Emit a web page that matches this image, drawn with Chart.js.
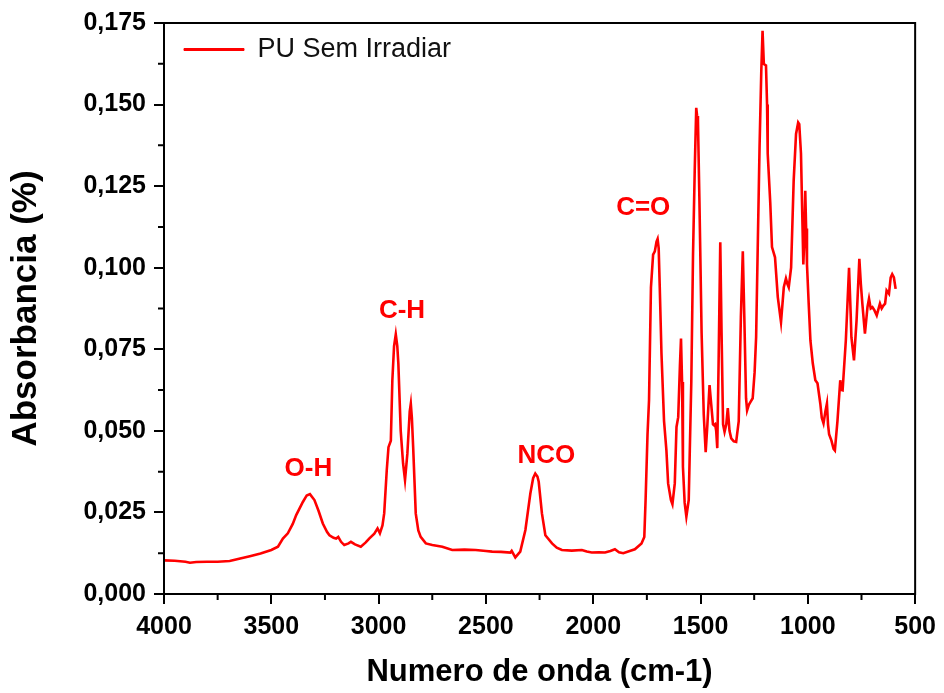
<!DOCTYPE html>
<html>
<head>
<meta charset="utf-8">
<script src="https://cdn.jsdelivr.net/npm/chart.js@4.4.0/dist/chart.umd.min.js"></script>
<style>
  body { margin: 0; background: #fff; }
</style>
</head>
<body>
<canvas id="espectro" width="944" height="693"></canvas>
<script>
// espectro FTIR - PU sem irradiar
var numeroOnda = [4000, 3950, 3900, 3879, 3850, 3800, 3750, 3694, 3650, 3600, 3550, 3500, 3469, 3446, 3423, 3400, 3384, 3353, 3335, 3320,
  3299, 3280, 3260, 3240, 3229, 3210, 3198, 3188, 3175, 3160, 3140, 3129, 3110, 3083, 3060, 3044, 3020, 3005, 2994, 2982,
  2974, 2962, 2954, 2943, 2936, 2928, 2920, 2913, 2908, 2897, 2886, 2877, 2866, 2855, 2850, 2845, 2839, 2827, 2815, 2804,
  2780, 2750, 2703, 2657, 2600, 2548, 2500, 2471, 2430, 2386, 2380, 2363, 2340, 2316, 2293, 2280, 2270, 2260, 2254, 2239,
  2223, 2192, 2170, 2146, 2100, 2053, 2030, 2007, 1975, 1945, 1920, 1899, 1880, 1860, 1830, 1806, 1775, 1762, 1756, 1747,
  1740, 1731, 1721, 1713, 1705, 1700, 1695, 1690, 1682, 1670, 1659, 1651, 1638, 1631, 1620, 1612, 1604, 1596, 1591, 1586,
  1582, 1574, 1566, 1555, 1550, 1543, 1535, 1527, 1520, 1516, 1512, 1505, 1495, 1485, 1476, 1468, 1458, 1450, 1442, 1437,
  1432, 1427, 1422, 1416, 1408, 1402, 1395, 1388, 1380, 1373, 1365, 1357, 1345, 1334, 1322, 1312, 1303, 1296, 1288, 1283,
  1275, 1267, 1257, 1248, 1241, 1233, 1225, 1217, 1211, 1205, 1195, 1190, 1187, 1175, 1167, 1153, 1140, 1125, 1112, 1102,
  1095, 1089, 1078, 1066, 1055, 1045, 1040, 1032, 1021, 1016, 1012, 1008, 1004, 996, 988, 977, 965, 955, 942, 935,
  927, 918, 911, 906, 901, 890, 880, 874, 862, 849, 843, 838, 823, 808, 800, 797, 785, 773, 760, 753,
  746, 734, 722, 715, 707, 699, 690, 679, 664, 656, 648, 640, 633, 622, 614, 607, 599, 591];
var absorbancia = [0.0103, 0.0102, 0.0099, 0.0096, 0.0098, 0.0099, 0.0099, 0.0101, 0.0108, 0.0116, 0.0124, 0.0135, 0.0145, 0.0170, 0.0186, 0.0215, 0.0242, 0.0282, 0.0302, 0.0306,
  0.0288, 0.0255, 0.0216, 0.0190, 0.0180, 0.0172, 0.0170, 0.0175, 0.0160, 0.0150, 0.0155, 0.0160, 0.0152, 0.0145, 0.0158, 0.0170, 0.0185, 0.0201, 0.0186, 0.0210,
  0.0247, 0.0380, 0.0450, 0.0470, 0.0655, 0.0760, 0.0796, 0.0760, 0.0706, 0.0500, 0.0400, 0.0349, 0.0430, 0.0560, 0.0583, 0.0540, 0.0450, 0.0247, 0.0195, 0.0175,
  0.0155, 0.0150, 0.0145, 0.0135, 0.0136, 0.0135, 0.0132, 0.0130, 0.0129, 0.0127, 0.0132, 0.0112, 0.0130, 0.0196, 0.0308, 0.0355, 0.0369, 0.0360, 0.0344, 0.0247,
  0.0180, 0.0155, 0.0142, 0.0135, 0.0133, 0.0135, 0.0130, 0.0127, 0.0128, 0.0127, 0.0132, 0.0137, 0.0128, 0.0125, 0.0132, 0.0137, 0.0155, 0.0175, 0.0288, 0.0490,
  0.0594, 0.0940, 0.1040, 0.1050, 0.1080, 0.1088, 0.1060, 0.0940, 0.0737, 0.0530, 0.0440, 0.0339, 0.0288, 0.0275, 0.0339, 0.0512, 0.0542, 0.0700, 0.0783, 0.0650,
  0.0390, 0.0280, 0.0237, 0.0288, 0.0440, 0.0650, 0.1040, 0.1300, 0.1490, 0.1465, 0.1450, 0.1200, 0.0800, 0.0550, 0.0435, 0.0520, 0.0640, 0.0580, 0.0520, 0.0517,
  0.0520, 0.0500, 0.0447, 0.0700, 0.1078, 0.0800, 0.0520, 0.0497, 0.0520, 0.0570, 0.0500, 0.0477, 0.0468, 0.0466, 0.0530, 0.0850, 0.1050, 0.0850, 0.0600, 0.0563,
  0.0580, 0.0589, 0.0600, 0.0680, 0.0787, 0.1080, 0.1370, 0.1600, 0.1726, 0.1624, 0.1620, 0.1500, 0.1350, 0.1197, 0.1063, 0.1032, 0.0910, 0.0833, 0.0940, 0.0967,
  0.0950, 0.0940, 0.1000, 0.1267, 0.1410, 0.1445, 0.1440, 0.1350, 0.1010, 0.1100, 0.1236, 0.1120, 0.1010, 0.0890, 0.0777, 0.0707, 0.0655, 0.0646, 0.0584, 0.0540,
  0.0523, 0.0560, 0.0584, 0.0520, 0.0490, 0.0470, 0.0445, 0.0440, 0.0530, 0.0655, 0.0625, 0.0624, 0.0777, 0.1000, 0.0850, 0.0787, 0.0716, 0.0838, 0.1027, 0.0950,
  0.0890, 0.0798, 0.0880, 0.0905, 0.0875, 0.0879, 0.0870, 0.0854, 0.0890, 0.0875, 0.0884, 0.0890, 0.0930, 0.0920, 0.0970, 0.0980, 0.0970, 0.0935];

var xTicks = [4000, 3500, 3000, 2500, 2000, 1500, 1000, 500];
var yTicks = [0, 0.025, 0.05, 0.075, 0.1, 0.125, 0.15, 0.175];

// rotulos das bandas
var bandas = ['O-H', 'C-H', 'NCO', 'C=O'];
var bandaX = [3327, 2891, 2218, 1767];
var bandaY = [0.0385, 0.0869, 0.0422, 0.1184];

var fonte = '"Liberation Sans", Arial, sans-serif';

var pontos = [];
for (var i = 0; i < numeroOnda.length; i++) {
  pontos.push({ x: numeroOnda[i], y: absorbancia[i] });
}

var moldura = {
  id: 'moldura',
  afterDatasetsDraw: function(chart) {
    var ctx = chart.ctx;
    var a = chart.chartArea;
    var sx = chart.scales.x;
    var sy = chart.scales.y;
    ctx.save();
    ctx.strokeStyle = '#000';
    ctx.lineWidth = 2;
    ctx.strokeRect(a.left, a.top, a.right - a.left, a.bottom - a.top);
    // ticks menores
    ctx.beginPath();
    for (var i = 0; i < xTicks.length - 1; i++) {
      var px = sx.getPixelForValue((xTicks[i] + xTicks[i + 1]) / 2);
      ctx.moveTo(px, a.bottom);
      ctx.lineTo(px, a.bottom + 6);
    }
    for (var j = 0; j < yTicks.length - 1; j++) {
      var py = sy.getPixelForValue((yTicks[j] + yTicks[j + 1]) / 2);
      ctx.moveTo(a.left, py);
      ctx.lineTo(a.left - 6, py);
    }
    ctx.stroke();
    // bandas
    ctx.fillStyle = '#ff0000';
    ctx.font = 'bold 26px ' + fonte;
    ctx.textAlign = 'center';
    ctx.textBaseline = 'middle';
    for (var k = 0; k < bandas.length; k++) {
      ctx.fillText(bandas[k], sx.getPixelForValue(bandaX[k]), sy.getPixelForValue(bandaY[k]));
    }
    ctx.restore();
  }
};

var ctx = document.getElementById('espectro');
var grafico = new Chart(ctx, {
  type: 'line',
  data: {
    datasets: [{
      label: 'PU Sem Irradiar',
      data: pontos,
      borderColor: '#ff0000',
      backgroundColor: '#ff0000',
      borderWidth: 2.6,
      pointRadius: 0,
      tension: 0,
      fill: false
    }]
  },
  options: {
    responsive: false,
    animation: false,
    layout: { padding: { top: 22, right: 26, left: 0, bottom: 0 } },
    plugins: {
      tooltip: { enabled: false },
      legend: {
        position: 'chartArea',
        align: 'start',
        title: { display: true, text: ' ', padding: { top: 4, bottom: 0 }, font: { size: 10 } },
        labels: {
          boxWidth: 60,
          boxHeight: 2,
          padding: 20,
          color: '#111',
          font: { family: fonte, size: 27 },
          generateLabels: function(chart) {
            var itens = Chart.defaults.plugins.legend.labels.generateLabels(chart);
            itens.forEach(function(it) { it.lineWidth = 1; it.strokeStyle = '#ff0000'; it.fillStyle = '#ff0000'; });
            return itens;
          }
        }
      }
    },
    scales: {
      x: {
        type: 'linear',
        reverse: true,
        min: 500,
        max: 4000,
        afterBuildTicks: function(scale) { scale.ticks = xTicks.map(function(v) { return { value: v }; }); },
        afterFit: function(scale) { scale.height = 99; },
        grid: { display: true, drawOnChartArea: false, drawTicks: true, tickLength: 10, color: '#000', lineWidth: 2 },
        border: { display: true, color: '#000', width: 2 },
        ticks: {
          color: '#000',
          padding: 8,
          maxRotation: 0,
          font: { family: fonte, size: 25, weight: 'bold' },
          callback: function(v) { return String(v); }
        },
        title: { display: true, text: 'Numero de onda (cm-1)', color: '#000', padding: { top: 0, bottom: 2 }, font: { family: fonte, size: 31, weight: 'bold' } }
      },
      y: {
        min: 0,
        max: 0.175,
        afterBuildTicks: function(scale) { scale.ticks = yTicks.map(function(v) { return { value: v }; }); },
        afterFit: function(scale) { scale.width = 164; },
        grid: { display: true, drawOnChartArea: false, drawTicks: true, tickLength: 10, color: '#000', lineWidth: 2 },
        border: { display: true, color: '#000', width: 2 },
        ticks: {
          color: '#000',
          padding: 8,
          font: { family: fonte, size: 25, weight: 'bold' },
          callback: function(v) { return v.toFixed(3).replace('.', ','); }
        },
        title: { display: true, text: 'Absorbancia (%)', color: '#000', padding: { top: 5, bottom: 0 }, font: { family: fonte, size: 35, weight: 'bold' } }
      }
    }
  },
  plugins: [moldura]
});
</script>
</body>
</html>
